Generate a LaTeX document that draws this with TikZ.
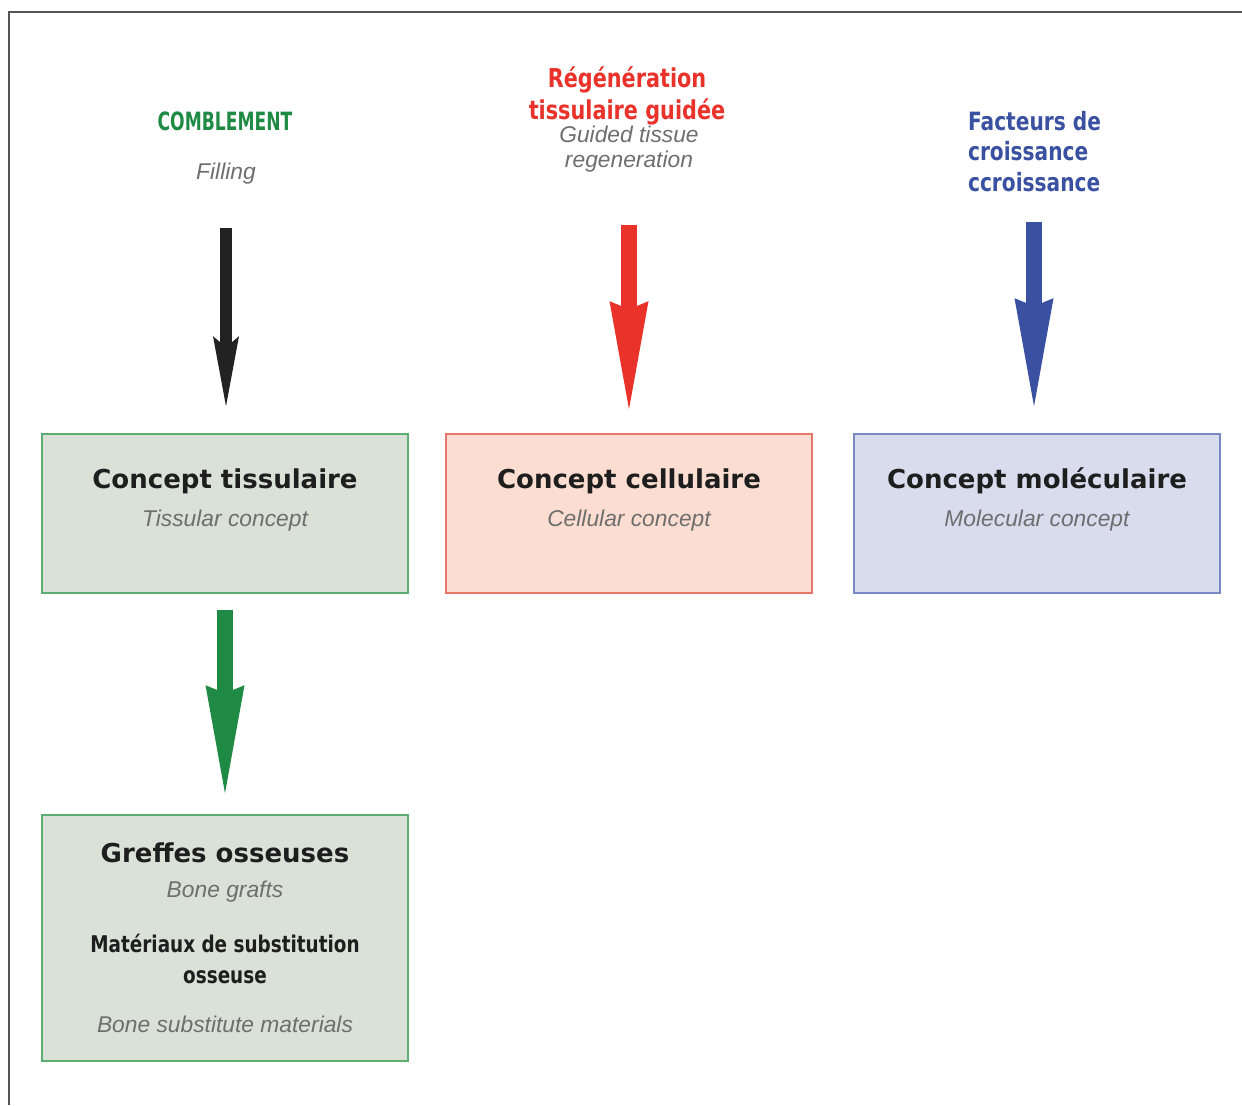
\documentclass[tikz,border=0pt]{standalone}
\usepackage{fontspec}
\setmainfont{DejaVu Sans}
\newfontfamily\condfont[FakeStretch=0.8]{DejaVu Sans}
\newfontfamily\narrowfont[FakeStretch=0.68]{DejaVu Sans}
\newfontfamily\engfont{Liberation Sans}
\usetikzlibrary{arrows.meta}

\definecolor{combgreen}{HTML}{1E8A44}
\definecolor{rgtred}{HTML}{E8322A}
\definecolor{facblue}{HTML}{3A51A1}
\definecolor{arrowblack}{HTML}{222222}
\definecolor{headblack}{HTML}{1E1E1E}
\definecolor{enggray}{HTML}{6E6E6E}
\definecolor{greenfill}{HTML}{DAE1D7}
\definecolor{greenedge}{HTML}{5DAE72}
\definecolor{redfill}{HTML}{FBDDD1}
\definecolor{rededge}{HTML}{E8766A}
\definecolor{bluefill}{HTML}{D9DCED}
\definecolor{blueedge}{HTML}{7A88C6}
\definecolor{framegray}{HTML}{555555}

\tikzset{
  box/.style={draw=#1, minimum width=183pt, minimum height=79.5pt, inner sep=0pt, line width=0.8pt},
  headtxt/.style={font=\fontsize{13}{15}\selectfont\bfseries, text=headblack},
  engtxt/.style={font=\engfont\itshape\fontsize{11.4}{12.5}\selectfont, text=enggray},
  condtxt/.style 2 args={font=\condfont\bfseries\fontsize{#1}{#2}\selectfont},
  fat/.style={line width=8pt, -{Stealth[length=54pt, width=19.5pt, inset=4pt, line width=0pt]}},
  slimfat/.style={line width=6pt, -{Stealth[length=35pt, width=13pt, inset=5.5pt, line width=0pt]}}
}

\begin{document}
\begin{tikzpicture}[x=0.5pt,y=-0.5pt]

        \useasboundingbox (0,0) rectangle (1242,1105);

        % draw the frame
        \draw[framegray, line width=0.8pt] (9,1105) -- (9,12) -- (1242,12);

        % draw the three concept boxes
        \foreach \n/\x/\fc/\dc/\head/\eng in {
            1/225/greenfill/greenedge/Concept tissulaire/Tissular concept,
            2/629/redfill/rededge/Concept cellulaire/Cellular concept,
            3/1037/bluefill/blueedge/Concept moléculaire/Molecular concept} {
                \node[box=\dc, fill=\fc] (box\n) at (\x,513.5) {};
                \node[headtxt] (head\n) at (\x,481) {\head};
                \node[engtxt] (eng\n) at (\x,521) {\eng};
        }

        % draw the bone grafts box
        \node[box=greenedge, fill=greenfill, minimum height=123pt] (box4) at (225,938) {};
        \node[headtxt] (head4) at (225,853) {Greffes osseuses};
        \node[engtxt] (eng4) at (225,892) {Bone grafts};
        \node[condtxt={11.5}{15.5}, text=headblack, align=center] (mat4) at (225,958.5) {Matériaux de substitution\\osseuse};
        \node[engtxt] (eng5) at (225,1024) {Bone substitute materials};

        % draw the approaches above the boxes
        \node[font=\narrowfont\bfseries\fontsize{12.6}{14}\selectfont, text=combgreen] (comb) at (225,121) {COMBLEMENT};
        \node[engtxt] (fill) at (226,174) {Filling};
        \node[condtxt={13}{16}, text=rgtred, align=center] (rtg) at (627,96) {Régénération\\tissulaire guidée};
        \node[engtxt, align=center] (gtr) at (629,149.5) {Guided tissue\\regeneration};
        \node[condtxt={12.6}{15.25}, text=facblue, align=left, anchor=west] (fac) at (961,151.5) {Facteurs de\\croissance\\ccroissance};

        % draw the arrows
        \coordinate (c1) at (226,228);
        \coordinate (c2) at (629,225);
        \coordinate (c3) at (1034,222);
        \coordinate (c4) at (225,610);
        \draw[slimfat, arrowblack] (c1) -- ([xshift=0.5pt,yshift=13.5pt]box1.north);
        \draw[fat, rgtred] (c2) -- ([yshift=12pt]box2.north);
        \draw[fat, facblue] (c3) -- ([xshift=-1.5pt,yshift=13.5pt]box3.north);
        \draw[fat, combgreen] (c4) -- ([yshift=10.5pt]box4.north);

\end{tikzpicture}
\end{document}
